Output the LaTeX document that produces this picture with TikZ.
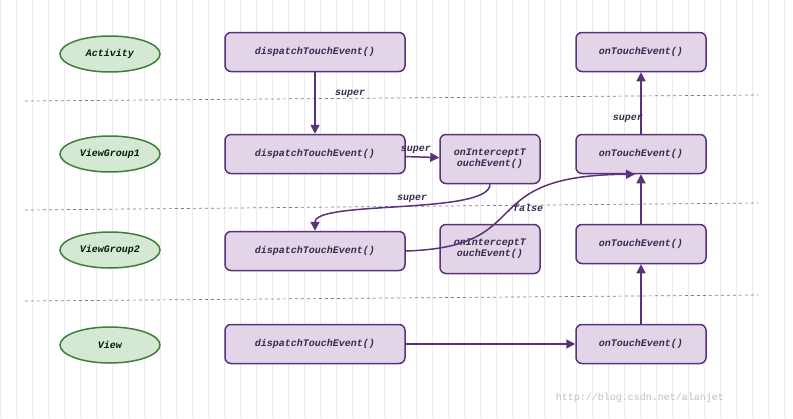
\documentclass[tikz,border=0pt]{standalone}
\usepackage{fontspec}
\setmonofont{Liberation Mono}
\usetikzlibrary{arrows.meta,shapes.geometric}
\definecolor{pur}{HTML}{5A3279}
\definecolor{pfill}{HTML}{E1D5E7}
\definecolor{gfill}{HTML}{D5E8D4}
\definecolor{gline}{HTML}{3E7D3A}
\definecolor{txt}{HTML}{3B2A4C}
\definecolor{grid}{HTML}{EAEAF2}
\begin{document}
\begin{tikzpicture}[x=1pt,y=-1pt,
  lbl/.style={font=\ttfamily\bfseries\itshape\fontsize{10}{11}\selectfont,text=txt},
  box/.style={draw=pur,line width=1.5pt,fill=pfill,rounded corners=6pt,lbl,align=center},
  ell/.style={ellipse,draw=gline,line width=1.5pt,fill=gfill,minimum width=100,minimum height=36,lbl,text=black!70!green!40!black},
  arr/.style={draw=pur,line width=1.5pt,-{Triangle[length=9pt,width=9pt]}},
  sep/.style={draw=pur!70,dashed,line width=0.7pt}]
\fill[white] (0,0) rectangle (793,418);
\useasboundingbox (0,0) rectangle (793,418);
\draw[grid,line width=0.5pt] (0,0) grid[step=16] (793,418);
\draw[sep] (25,101) -- (758,95);
\draw[sep] (25,210) -- (758,203);
\draw[sep] (25,301) -- (758,295);
\node[ell] (act) at (110,54) {Activity};
\node[ell] (vg1) at (110,154) {ViewGroup1};
\node[ell] (vg2) at (110,250) {ViewGroup2};
\node[ell] (view) at (110,345) {View};
\foreach \n/\y in {d1/52,d2/154,d3/251,d4/344}
  \node[box,minimum width=180,minimum height=39] (\n) at (315,\y) {dispatchTouchEvent()};
\node[box,minimum width=100,minimum height=49,inner sep=1pt] (i1) at (490,159) {onInterceptT\\ouchEvent()};
\node[box,minimum width=100,minimum height=49,inner sep=1pt] (i2) at (490,249) {onInterceptT\\ouchEvent()};
\foreach \n/\y in {t1/52,t2/154,t3/244,t4/344}
  \node[box,minimum width=130,minimum height=39] (\n) at (641,\y) {onTouchEvent()};
\draw[arr] (d1) -- node[lbl,pos=0.35,right=16pt]{super} (d2);
\draw[arr] (d2) -- node[lbl,above=-1pt,pos=0.3]{super} (i1);
\draw[arr] (i1.south) .. controls (490,215) and (315,200) .. (d3.north);
\node[lbl] at (412,199) {super};
\draw[arr] (d3.east) .. controls (540,247) and (470,175) .. (t2.south west -| 635,173);
\node[lbl] at (528,208) {false};
\draw[arr] (t3) -- (t2);
\draw[arr] (t4) -- (t3);
\draw[arr] (t2) -- node[lbl,pos=0.25,left=-6pt]{super} (t1);
\draw[arr] (d4) -- (t4);
\node[font=\ttfamily\fontsize{10}{11}\selectfont,text=black!25] at (640,398) {http://blog.csdn.net/alanjet};
\end{tikzpicture}
\end{document}
